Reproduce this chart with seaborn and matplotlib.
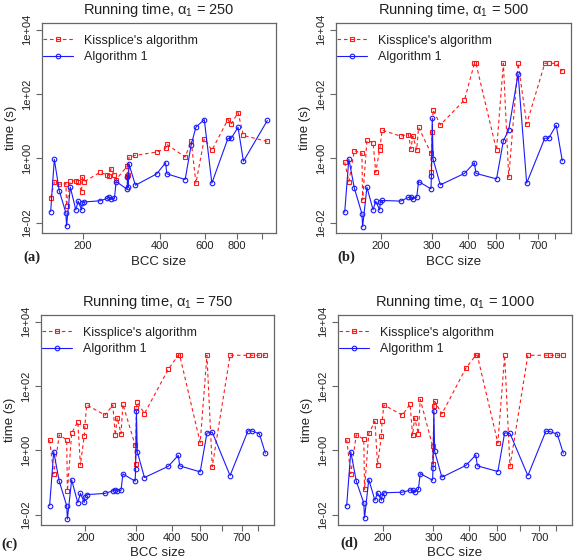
import numpy as np
import pandas as pd
import matplotlib
matplotlib.use("Agg")
import matplotlib.pyplot as plt
import seaborn as sns

# ---------------- data ----------------
sizes = [150, 155, 162, 172, 173, 179, 188, 192, 198, 199, 202, 234, 249, 254,
         258, 266, 270, 298, 299, 301, 303, 321, 389, 421, 426, 502, 530, 553,
         596, 638, 737, 759, 807, 847]
sizes_a = sizes + [1050]
sizes_cd = [s for s in sizes if s != 596]

alg1_250 = [0.022, 0.93, 0.10, 0.020, 0.0079, 0.127, 0.025, 0.047, 0.025, 0.040,
            0.044, 0.048, 0.057, 0.062, 0.054, 0.057, 0.19, 0.11, 0.27, 0.13,
            0.67, 0.146, 0.33, 0.73, 0.33, 0.22, 2.65, 9.3, 16.1, 0.17,
            4.15, 4.15, 9.3, 0.81, 15.0]
kiss_250 = [0.059, 0.18, 0.157, 0.164, 0.033, 0.20, 0.20, 0.19, 0.089, 0.26,
            0.185, 0.37, 0.30, 0.28, 0.48, 0.30, 0.22, 0.57, 0.29, 0.30,
            1.07, 1.24, 1.57, 2.04, 2.71, 1.1, 3.36, 0.169, 4.06, 1.77,
            16.1, 11.5, 26.5, 5.14, 3.36]

alg1_500 = [0.021, 0.95, 0.118, 0.019, 0.0075, 0.127, 0.025, 0.047, 0.025, 0.044,
            0.049, 0.047, 0.061, 0.065, 0.055, 0.062, 0.19, 0.113, 0.29, 17.7,
            0.95, 0.15, 0.34, 0.73, 0.34, 0.23, 3.5, 7.7, 415, 0.17,
            4.25, 4.15, 10.7, 0.83]
kiss_500 = [0.75, 0.19, 1.73, 1.43, 0.051, 3.6, 3.1, 0.37, 1.81, 2.46,
            7.5, 4.9, 5.5, 2.0, 4.9, 1.85, 9.1, 1.46, 0.39, 6.8,
            32, 11, 65, 900, 900, 1.77, 900, 0.26, 900, 11.8,
            900, 900, 900, 510]

alg1_750 = [0.019, 0.91, 0.11, 0.019, 0.0073, 0.121, 0.0235, 0.046, 0.024, 0.035,
            0.042, 0.046, 0.055, 0.059, 0.054, 0.057, 0.185, 0.11, 0.27, 16.5,
            0.91, 0.143, 0.32, 0.70, 0.33, 0.214, 3.44, 3.69, 0.164,
            4.06, 4.0, 3.28, 0.81]
kiss_750 = [2.09, 0.185, 2.98, 2.14, 0.054, 3.44, 7.7, 0.35, 2.84, 5.8,
            25.8, 12.4, 25.8, 2.91, 10.2, 3.28, 27.1, 1.43, 0.38, 21.4,
            31.2, 13.9, 336, 900, 900, 1.73, 900, 0.31, 900,
            900, 900, 900, 900]

alg1_1000 = [0.019, 0.91, 0.11, 0.023, 0.0079, 0.124, 0.028, 0.048, 0.028, 0.038,
             0.048, 0.050, 0.058, 0.059, 0.051, 0.061, 0.19, 0.118, 0.28, 17.3,
             0.93, 0.146, 0.34, 0.72, 0.33, 0.22, 3.5, 3.36, 0.164,
             3.96, 3.87, 3.2, 0.81]
kiss_1000 = [2.14, 0.19, 3.05, 2.19, 0.061, 3.36, 7.9, 0.36, 2.77, 7.9,
             25.8, 12.4, 27.1, 2.91, 10.2, 3.28, 38.7, 1.36, 0.38, 24.6,
             33.5, 13.6, 361, 900, 900, 1.69, 900, 0.32, 900,
             900, 900, 900, 900]

alphas = [250, 500, 750, 1000]
panel_tags = ["(a)", "(b)", "(c)", "(d)"]
series_names = ["Kissplice's algorithm", "Algorithm 1"]
ytick_vals = [1e-2, 1e0, 1e2, 1e4]
ytick_labels = ["1e-02", "1e+00", "1e+02", "1e+04"]
xticks_a = [200, 400, 600, 800, 1000]
xtick_labels_a = ["200", "400", "600", "800", ""]
xticks_b = [200, 300, 400, 500, 600, 700, 800]
xtick_labels_b = ["200", "300", "400", "500", "", "700", ""]

panels = [
    (sizes_a, kiss_250, alg1_250, xticks_a, xtick_labels_a),
    (sizes, kiss_500, alg1_500, xticks_b, xtick_labels_b),
    (sizes_cd, kiss_750, alg1_750, xticks_b, xtick_labels_b),
    (sizes_cd, kiss_1000, alg1_1000, xticks_b, xtick_labels_b),
]

# ---------------- style ----------------
sns.set_theme(style="white")
plt.rcParams["font.family"] = ["Liberation Sans", "DejaVu Sans"]
plt.rcParams["mathtext.fontset"] = "custom"
plt.rcParams["mathtext.rm"] = "Liberation Sans"
plt.rcParams["mathtext.it"] = "Liberation Sans:italic"
plt.rcParams["axes.edgecolor"] = "#666666"
plt.rcParams["axes.linewidth"] = 0.9
plt.rcParams["xtick.bottom"] = True
plt.rcParams["ytick.left"] = True
plt.rcParams["xtick.direction"] = "out"
plt.rcParams["ytick.direction"] = "out"

W, H = 574, 560
fig = plt.figure(figsize=(W / 100, H / 100), dpi=100)

# axes boxes in pixel coords (left, top, right, bottom)
boxes = [(42, 23, 276, 233), (336, 23, 571, 233),
         (41, 315, 274, 525), (338, 315, 572, 525)]
tag_pos = [(32, 257), (346, 257), (9, 544), (349, 543)]

RED = "#ff1a1a"
BLUE = "#1a1aff"

for i, (xs, ks, a1, xt, xtl) in enumerate(panels):
    l, t, r, b = boxes[i]
    ax = fig.add_axes([l / W, 1 - b / H, (r - l) / W, (b - t) / H])
    df = pd.DataFrame({"size": xs, "kiss": ks, "alg1": a1})

    sns.lineplot(data=df, x="size", y="kiss", ax=ax, color=RED,
                 linestyle=(0, (3.2, 2.6)), linewidth=0.8, marker="s",
                 markersize=3.0, markerfacecolor="none", markeredgecolor=RED,
                 markeredgewidth=0.8, label=series_names[0], estimator=None)
    sns.lineplot(data=df, x="size", y="alg1", ax=ax, color=BLUE,
                 linewidth=0.8, marker="o", markersize=3.3,
                 markerfacecolor="none", markeredgecolor=BLUE,
                 markeredgewidth=0.8, label=series_names[1], estimator=None)

    ax.set_xscale("log")
    ax.set_yscale("log")
    lo, hi = np.log10(min(xs)), np.log10(max(xs))
    pad = 0.04 * (hi - lo)
    ax.set_xlim(10 ** (lo - pad), 10 ** (hi + pad))
    ax.set_ylim(10 ** -2.32, 10 ** 4.206)

    ax.xaxis.set_minor_locator(matplotlib.ticker.NullLocator())
    ax.yaxis.set_minor_locator(matplotlib.ticker.NullLocator())
    ax.set_xticks(xt)
    ax.set_xticklabels(xtl)
    ax.set_yticks(ytick_vals)
    ax.set_yticklabels(ytick_labels, rotation=90, va="center")
    ax.tick_params(axis="both", length=4, width=0.8, color="#666666",
                   labelsize=8, pad=2, labelcolor="#222222")
    ax.tick_params(axis="y", pad=3)

    ax.set_xlabel("BCC size", fontsize=9.5, labelpad=3, color="#222222")
    ax.set_ylabel("time (s)", fontsize=9.5, labelpad=4, color="#222222")
    ax.set_title(r"Running time, $\mathregular{\alpha_1}$ = %d" % alphas[i],
                 fontsize=10.5, pad=6.5, color="#222222")

    leg = ax.legend(loc="upper left", bbox_to_anchor=(0.005, 0.945),
                    frameon=False, fontsize=9, handlelength=2.4,
                    handletextpad=0.9, labelspacing=0.35, borderpad=0,
                    borderaxespad=0)
    for txt in leg.get_texts():
        txt.set_color("#222222")

    tx, ty = tag_pos[i]
    fig.text(tx / W, 1 - ty / H, panel_tags[i], ha="center", va="center",
             fontsize=10.5, fontweight="bold", family="Liberation Serif",
             color="#222222")

fig.savefig("out.png", dpi=100)
